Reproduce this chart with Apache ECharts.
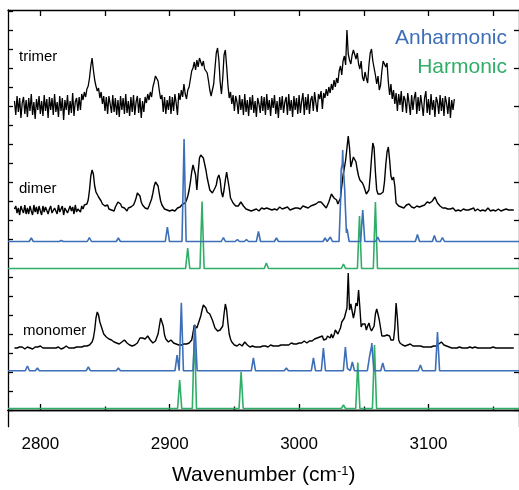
<!DOCTYPE html>
<html><head><meta charset="utf-8">
<script src="https://cdn.jsdelivr.net/npm/echarts@6/dist/echarts.min.js"></script>
<style>html,body{margin:0;padding:0;background:#fff}#c{width:519px;height:490px}</style>
</head><body><div id="c"></div>
<script>
// ---------- axis ----------
const xMin = 2775, xMax = 3170;
const xTickLabels = [2800, 2900, 3000, 3100];
const xMinorTicks = [2850, 2950, 3050, 3150];
const xTopTicks = [2800, 2850, 2900, 2950, 3000, 3050, 3100, 3150];
const yMin = -16.7, yMax = 400;
const yLeftTicks = [0,19,38,57,76,95,114,133,152,171,190,209,228,247,266,285,304,323,342,361,380,399];
const yRightTicks = [0,38,76,114,152,190,228,266,304,342,380];

// ---------- experimental traces (1 cm-1 grid, intensity above baseline) ----------
const traceLabels = ['trimer', 'dimer', 'monomer'];
const trimerStart = 2780, trimerOffset = 304;
const trimerValues = [
 5,-9,10,-6,8,-12,3,9,-8,6,
 -11,8,-5,12,-9,4,-13,7,-4,10,
 -8,5,-10,11,-5,7,-12,9,-4,8,
 -9,12,-6,4,-11,10,-5,8,-14,6,
 -4,11,-9,5,-7,13,-10,4,8,-5,
 9,-4,12,6,14,9,17,20,28,40,
 48,36,26,20,15,18,8,14,2,10,
 -5,9,-8,10,2,-7,11,-6,8,-9,
 6,-11,10,-4,8,-8,12,-7,5,-10,
 9,-6,11,-9,4,10,-7,8,-12,5,
 -6,9,3,12,6,14,9,19,24,30,
 32,25,15,7,11,-6,9,-8,6,-4,
 10,-8,9,-5,12,3,-9,13,6,16,
 9,22,12,7,16,19,27,35,38,44,
 36,46,39,48,49,40,45,37,36,33,
 25,16,10,8,22,38,53,58,46,24,
 12,28,51,56,40,21,8,14,2,11,
 -5,10,4,-8,11,-4,7,-9,12,-6,
 6,-10,9,-4,11,-7,5,-11,8,2,
 -7,10,-5,9,-9,12,-4,6,-10,8,
 -2,11,-8,5,-12,9,-4,10,-7,4,
 9,-9,12,-5,6,-11,10,-4,8,-8,
 11,-7,5,13,-9,9,-4,12,-8,6,
 10,-5,14,3,-6,12,7,15,-3,13,
 8,17,10,19,13,22,16,26,19,28,
 23,35,40,31,45,50,41,76,52,46,
 42,51,56,58,47,53,42,37,45,29,
 25,34,28,23,41,53,57,45,38,31,
 22,30,16,21,35,45,46,39,43,24,
 11,22,7,16,2,13,-5,12,1,15,
 -6,10,6,-7,13,3,-9,11,-4,8,
 14,-8,9,-5,11,1,-10,8,15,-7,
 7,-9,12,-4,6,-11,9,4,-8,11,
 -5,8,-10,10,3,-8,9,-12,6,-4,
 7
];
const dimerStart = 2780, dimerOffset = 200;
const dimerValues = [
 1,4,-3,2,-5,4,0,-3,5,-4,
 2,-4,4,-1,-5,5,-2,3,-4,4,
 -1,-5,4,-2,3,5,-4,1,4,-3,
 -5,2,4,-4,5,-2,1,4,-5,2,
 4,-3,-5,4,-1,3,-4,5,-2,1,
 3,-2,4,1,5,3,6,10,20,34,
 40,36,24,18,16,13,12,9,6,5,
 4,2,5,1,3,0,2,-1,3,4,
 8,10,6,3,1,2,0,-1,2,1,
 3,2,5,8,12,17,18,14,8,5,
 3,2,0,1,4,6,11,17,24,28,
 28,24,16,9,5,3,1,2,0,1,
 -1,1,0,2,-1,1,2,0,3,4,
 6,8,7,10,14,20,28,38,45,47,
 35,20,38,52,55,57,52,46,40,32,
 26,20,18,17,19,22,25,32,35,30,
 18,13,20,30,38,36,22,12,10,7,
 5,4,3,4,6,8,7,4,2,1,
 1,0,2,-1,1,0,2,1,0,-1,
 1,2,0,1,-1,2,0,1,2,0,
 -1,1,2,0,1,3,2,1,0,2,
 1,3,2,0,2,1,3,2,1,2,
 3,1,2,4,2,3,1,2,3,4,
 3,5,4,6,7,8,6,8,7,5,
 3,2,4,8,12,16,15,12,13,10,
 6,5,12,24,35,42,50,62,74,62,
 43,48,53,55,48,40,34,30,28,27,
 24,20,16,15,20,34,52,67,62,38,
 20,16,15,16,15,18,28,45,58,63,
 50,34,30,33,24,7,5,4,3,3,
 4,2,3,5,4,6,5,3,4,2,
 3,4,2,3,5,4,6,5,7,8,
 8,7,6,9,11,13,10,7,5,4,
 3,2,1,2,0,1,-1,1,0,2,
 0,-1,1,0,2,-1,0,1,-1,0,
 1,0,-1,1,0,2,-1,0,1,0,
 -1,1,0,1,-1,0,2,0,-1,1,
 0,1,-1,0,1,0,-1,1,0,0,
 1,-1,0,1,0,-1,0
];
const monomerStart = 2780, monomerOffset = 62;
const monomerValues = [
 0,1,0,-1,1,0,1,0,-1,0,
 1,0,0,1,-1,0,1,0,1,2,
 2,1,0,1,0,-1,0,1,0,1,
 0,1,0,0,1,0,-1,1,0,2,
 2,1,0,1,0,1,0,0,1,0,
 1,0,1,1,2,1,2,2,3,4,
 6,10,18,30,36,33,26,22,18,14,
 12,11,10,9,8,8,7,6,5,5,
 4,4,5,6,7,8,7,5,4,3,
 3,2,2,3,4,5,7,10,12,10,
 8,9,11,12,10,8,6,5,5,7,
 9,14,22,30,31,22,13,9,7,6,
 7,8,6,5,4,4,3,3,4,3,
 3,4,3,4,5,5,6,8,15,23,
 23,20,24,28,32,38,43,45,40,36,
 38,34,31,28,24,20,18,17,16,18,
 16,22,34,44,38,25,14,9,6,4,
 3,3,2,3,4,3,2,4,6,5,
 3,2,1,1,2,1,1,0,1,2,
 1,1,2,1,2,2,1,2,3,2,
 2,3,2,3,2,3,3,2,3,4,
 3,4,3,4,5,4,4,5,4,5,
 5,6,5,6,7,6,5,6,7,8,
 7,8,9,8,10,9,11,10,12,8,
 10,9,12,11,10,14,10,13,18,16,
 14,16,20,26,24,30,28,40,75,38,
 44,45,30,36,45,42,58,40,21,24,
 26,24,18,22,25,20,17,16,22,34,
 39,34,28,20,12,10,12,14,13,15,
 12,8,6,8,20,45,30,8,5,4,
 3,3,2,3,3,4,4,3,2,2,
 2,1,2,1,2,1,1,2,1,2,
 1,2,1,2,2,2,2,3,4,5,
 6,4,3,2,2,1,1,1,0,1,
 0,1,0,0,1,0,0,1,0,0,
 0,0,1,0,0,0,1,0,0,0,
 0,1,0,0,0,1,0,0,0,0,
 1,0,0,0,0,1,0,0,0,0,
 0,1,0,0,0,0,0
];

// ---------- calculated stick spectra (position cm-1, intensity) ----------
const dimerAnhOffset = 168.5;
const dimerAnhPos = [2793.0,2816.2,2837.9,2860.3,2898.2,2911.1,2941.5,2952.3,2959.3,2968.6,2982.5,3020.1,3024.2,3032.5,3033.7,3035.0,3037.1,3049.2,3060.8,3091.5,3104.6,3110.8];
const dimerAnhInt = [3.5,1,4,3.5,14.5,102.5,4,2,2,10,3.5,3.5,4.5,55,66,63,12.5,31.5,4.5,7,6,4];
const dimerHarOffset = 141.5;
const dimerHarPos = [2913.9,2925.0,2974.7,3034.3,3046.7,3059.0];
const dimerHarInt = [20.5,67,5.5,4.5,52.5,66.5];
const monoAnhOffset = 39.3;
const monoAnhPos = [2790.0,2797.7,2837.1,2860.3,2905.7,2909.0,2919.6,2964.7,2990.2,3011.1,3018.8,3035.8,3038.1,3041.2,3054.4,3056.2,3064.7,3093.8,3107.0];
const monoAnhInt = [4.7,2.7,3.7,2.7,15.7,68,46,12.7,2.7,12.7,22.7,23.7,3.7,8.7,13.7,27.7,7.7,5.7,38.7];
const monoHarOffset = 1.5;
const monoHarPos = [2907.7,2919.1,2955.2,3034.3,3045.4,3058.3];
const monoHarInt = [28.5,80,36.8,3.5,46,63.5];

const colBlack = '#000000', colBlue = '#3d6fb8', colGreen = '#2fae68';
const FONT = '"Liberation Sans", Arial, Helvetica, sans-serif';

function trace(start, values, offset) {
  return values.map((v, i) => [start + i, offset + v]);
}
function sticks(pos, ints, offset, hw) {
  const xs = [xMin, xMax];
  pos.forEach(c => xs.push(c - hw, c, c + hw));
  xs.sort((a, b) => a - b);
  return xs.map(x => {
    let y = offset;
    pos.forEach((c, k) => { const d = Math.abs(x - c); if (d < hw) y += ints[k] * (1 - d / hw); });
    return [x, y];
  });
}
function line(data, color, w) {
  return { type: 'line', data: data, showSymbol: false, symbol: 'none', silent: true,
    lineStyle: { color: color, width: w }, animation: false, z: 2 };
}

const chart = echarts.init(document.getElementById('c'), null, { renderer: 'canvas' });
const axisLineStyle = { lineStyle: { color: '#000', width: 1.3 } };
chart.setOption({
  animation: false,
  backgroundColor: '#fff',
  grid: { left: 8, right: -1, top: 10, bottom: 63.3, containLabel: false },
  xAxis: [
    { type: 'value', min: xMin, max: xMax, position: 'bottom', axisLine: axisLineStyle,
      splitLine: { show: false },
      axisTick: { inside: true, length: 6, customValues: xTickLabels, lineStyle: { width: 1.3 } },
      axisLabel: { customValues: xTickLabels, formatter: v => String(v), fontSize: 17, color: '#000', fontFamily: FONT, margin: 9 } },
    { type: 'value', min: xMin, max: xMax, position: 'bottom', axisLine: axisLineStyle,
      splitLine: { show: false },
      axisTick: { inside: true, length: 3.5, customValues: xMinorTicks, lineStyle: { width: 1.3 } },
      axisLabel: { show: false } },
    { type: 'value', min: xMin, max: xMax, position: 'top', axisLine: axisLineStyle,
      splitLine: { show: false },
      axisTick: { inside: true, length: 6, customValues: xTopTicks, lineStyle: { width: 1.3 } },
      axisLabel: { show: false } }
  ],
  yAxis: [
    { type: 'value', min: yMin, max: yMax, position: 'left', axisLine: { show: true, lineStyle: { color: '#000', width: 1.3 } },
      splitLine: { show: false },
      axisTick: { show: true, inside: true, length: 5, customValues: yLeftTicks, lineStyle: { width: 1.3 } },
      axisLabel: { show: false } },
    { type: 'value', min: yMin, max: yMax, position: 'right', axisLine: { show: true, lineStyle: { color: '#000', width: 1.3 } },
      splitLine: { show: false },
      axisTick: { show: true, inside: true, length: 5, customValues: yRightTicks, lineStyle: { width: 1.3 } },
      axisLabel: { show: false } }
  ],
  series: [
    line(trace(trimerStart, trimerValues, trimerOffset), colBlack, 1.3),
    line(trace(dimerStart, dimerValues, dimerOffset), colBlack, 1.4),
    line(trace(monomerStart, monomerValues, monomerOffset), colBlack, 1.4),
    line(sticks(dimerHarPos, dimerHarInt, dimerHarOffset, 1.6), colGreen, 1.6),
    line(sticks(monoHarPos, monoHarInt, monoHarOffset, 1.6), colGreen, 1.6),
    line(sticks(dimerAnhPos, dimerAnhInt, dimerAnhOffset, 1.6), colBlue, 1.6),
    line(sticks(monoAnhPos, monoAnhInt, monoAnhOffset, 1.6), colBlue, 1.6)
  ],
  graphic: [
    { type: 'text', left: 19, top: 49, style: { text: traceLabels[0], fill: '#000', font: '15px ' + FONT } },
    { type: 'text', left: 19, top: 181, style: { text: traceLabels[1], fill: '#000', font: '15px ' + FONT } },
    { type: 'text', left: 23, top: 323, style: { text: traceLabels[2], fill: '#000', font: '15px ' + FONT } },
    { type: 'text', right: 12, top: 28, style: { text: 'Anharmonic', fill: colBlue, font: '21px ' + FONT } },
    { type: 'text', right: 12, top: 57, style: { text: 'Harmonic', fill: colGreen, font: '21px ' + FONT } },
    { type: 'text', left: 172, top: 465, style: {
        text: 'Wavenumber (cm{sup|-1})', fill: '#000', font: '21px ' + FONT,
        rich: { sup: { fontSize: 13, fontFamily: FONT, fill: '#000', verticalAlign: 'top', padding: [0, 0, 8, 0] } } } }
  ]
});
</script>
</body></html>
